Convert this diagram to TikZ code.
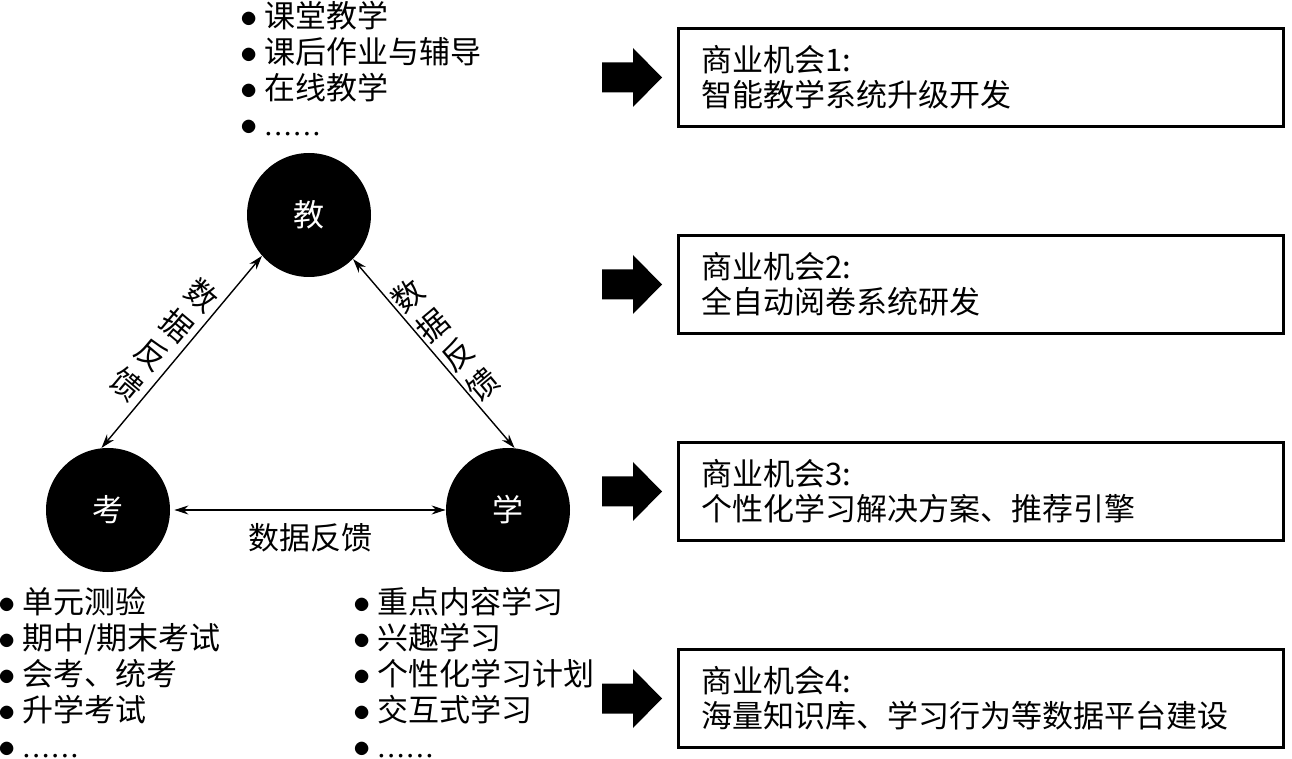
\documentclass[tikz,border=0pt]{standalone}
\usepackage{fontspec}
\setmainfont{Noto Sans CJK SC}
\newfontfamily\dotfont[LetterSpace=6]{Liberation Serif}
\usetikzlibrary{positioning, arrows.meta}

\newcommand{\itm}{\raisebox{0pt}[0pt][0pt]{\fontsize{17.5}{18}\selectfont$\bullet$}\hspace{3.5pt}}
\newcommand{\moredots}{{\dotfont......}}

\begin{document}
\begin{tikzpicture}[
    x=0.5pt, y=-0.5pt,
    every node/.style={font=\fontsize{15.5}{18}\selectfont},
    hub/.style={circle, fill=black, text=white, minimum size=62pt, inner sep=0pt},
    fb/.style={{Stealth[length=7pt,width=4.5pt]}-{Stealth[length=7pt,width=4.5pt]},
               line width=0.7pt},
    itemlist/.style={align=left, inner sep=0pt, anchor=north west},
    sidelabel/.style={align=center, inner sep=0pt,
                      font=\fontsize{15.5}{19.5}\selectfont},
    chance/.style={draw, line width=1.5pt, align=left,
                   minimum width=302.5pt, minimum height=49pt,
                   text width=279.5pt, inner xsep=11.5pt,
                   font=\fontsize{15.5}{17.5}\selectfont},
    bigarrow/.pic={\fill (0,-15) -- (31,-15) -- (31,-29.5) -- (60,0)
                   -- (31,29.5) -- (31,15) -- (0,15) -- cycle;}
  ]
    \useasboundingbox (0,0) rectangle (1292,759);

    % the three hubs
    \node[hub] (jiao) at (309,215) {教};
    \node[hub] (kao)  at (108,510) {考};
    \node[hub] (xue)  at (508,510) {学};

    \draw[fb] (kao.96) -- node[xshift=-8.5pt, yshift=6pt, rotate=-40, sidelabel]
        (fbleft) {数\\据\\反\\馈} (jiao.221);
    \draw[fb] (jiao.315) -- node[xshift=5.7pt, yshift=6.75pt, rotate=40, sidelabel]
        (fbright) {数\\据\\反\\馈} (xue.84);
    \draw[fb] ([xshift=2pt]kao.east) -- node[below=6.5pt, inner sep=0pt]
        (fbbottom) {数据反馈} (xue.west);

    % item lists
    \node[itemlist] (teachlist) at (240,1) {\itm 课堂教学\\\itm 课后作业与辅导\\
        \itm 在线教学\\\itm \moredots};
    \node[itemlist] (examlist) at (-2,587) {\itm 单元测验\\\itm 期中/期末考试\\
        \itm 会考、统考\\\itm 升学考试\\\itm \moredots};
    \node[itemlist] (learnlist) at (353,587) {\itm 重点内容学习\\\itm 兴趣学习\\
        \itm 个性化学习计划\\\itm 交互式学习\\\itm \moredots};

    % business chances
    \node[chance] (opp1) at (981,77.5) {商业机会1:\\智能教学系统升级开发};
    \node[chance, below=53pt of opp1] (opp2) {商业机会2:\\全自动阅卷系统研发};
    \node[chance, below=53pt of opp2] (opp3) {商业机会3:\\个性化学习解决方案、推荐引擎};
    \node[chance, below=53pt of opp3] (opp4) {商业机会4:\\海量知识库、学习行为等数据平台建设};

    \pic at ([xshift=-37.5pt]opp1.west) {bigarrow};
    \pic at ([xshift=-37.5pt]opp2.west) {bigarrow};
    \pic at ([xshift=-37.5pt]opp3.west) {bigarrow};
    \pic at ([xshift=-37.5pt]opp4.west) {bigarrow};
\end{tikzpicture}
\end{document}
